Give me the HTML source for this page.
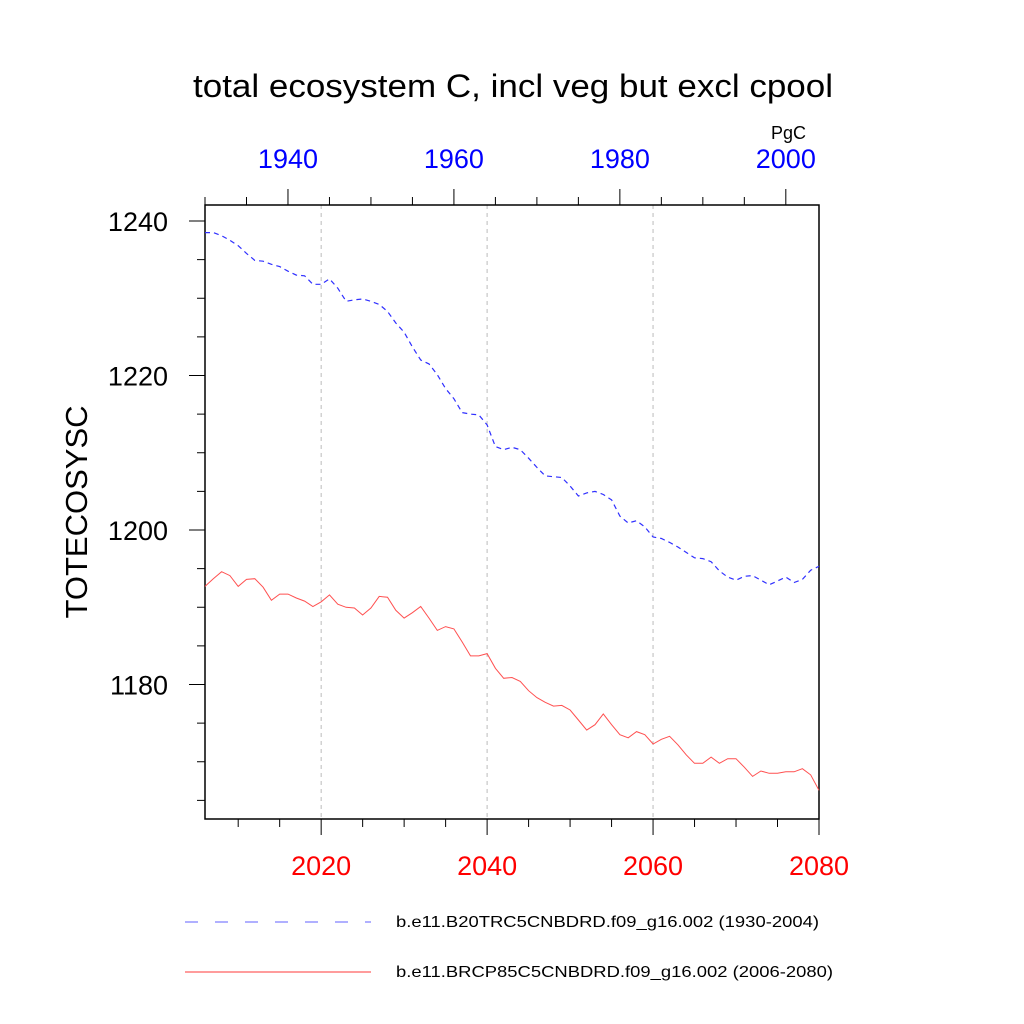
<!DOCTYPE html>
<html><head><meta charset="utf-8"><style>
html,body{margin:0;padding:0;background:#fff;}
svg{display:block;font-family:"Liberation Sans",Arial,sans-serif;}
</style></head><body>
<svg id="chart" width="1024" height="1024" viewBox="0 0 1024 1024" xmlns="http://www.w3.org/2000/svg">
<text x="193" y="97" font-size="32" textLength="640" lengthAdjust="spacingAndGlyphs">total ecosystem C, incl veg but excl cpool</text>
<text x="806" y="139" font-size="18" text-anchor="end">PgC</text>
<text x="0" y="0" font-size="31" text-anchor="middle" transform="translate(87,512) rotate(-90)">TOTECOSYSC</text>
<g id="grid"></g>
<g id="axes"></g>
<g id="series"></g>
<g id="legend">
<line x1="185" y1="922" x2="371" y2="922" stroke="#8080ff" stroke-width="1.2" stroke-dasharray="13,17"/>
<text x="396" y="927" font-size="16" textLength="423" lengthAdjust="spacingAndGlyphs">b.e11.B20TRC5CNBDRD.f09_g16.002 (1930-2004)</text>
<line x1="185" y1="972" x2="371" y2="972" stroke="#ff6060" stroke-width="1.2"/>
<text x="396" y="977" font-size="16" textLength="437" lengthAdjust="spacingAndGlyphs">b.e11.BRCP85C5CNBDRD.f09_g16.002 (2006-2080)</text>
</g>
</svg>
<script>
const rcpStartYear = 2006;
const histStartYear = 1930;
const rcpValues = [1192.7,1193.7,1194.6,1194.1,1192.7,1193.6,1193.7,1192.6,1190.9,1191.7,1191.7,1191.2,1190.8,1190.1,1190.7,1191.6,1190.4,1190.0,1189.9,1189.0,1189.9,1191.4,1191.3,1189.6,1188.6,1189.3,1190.1,1188.6,1187.0,1187.5,1187.2,1185.5,1183.7,1183.7,1184.0,1182.1,1180.8,1180.9,1180.4,1179.2,1178.3,1177.7,1177.2,1177.3,1176.7,1175.4,1174.1,1174.8,1176.2,1174.8,1173.5,1173.1,1173.9,1173.5,1172.3,1172.9,1173.3,1172.2,1170.9,1169.8,1169.8,1170.6,1169.8,1170.4,1170.4,1169.3,1168.1,1168.8,1168.5,1168.5,1168.7,1168.7,1169.1,1168.3,1166.3];
const histValues = [1238.5,1238.5,1238.1,1237.5,1236.8,1235.8,1234.9,1234.8,1234.4,1234.1,1233.5,1233.0,1232.9,1231.8,1231.8,1232.5,1231.3,1229.6,1229.8,1229.9,1229.6,1229.2,1228.3,1226.8,1225.6,1223.7,1222.0,1221.5,1220.1,1218.3,1217.0,1215.2,1215.0,1214.9,1213.6,1210.8,1210.4,1210.7,1210.4,1209.3,1208.1,1207.0,1206.9,1206.8,1205.7,1204.4,1204.8,1205.0,1204.6,1203.9,1201.8,1200.9,1201.2,1200.4,1199.1,1198.9,1198.4,1197.8,1197.1,1196.4,1196.3,1195.9,1194.7,1193.9,1193.5,1194.0,1194.1,1193.5,1192.9,1193.4,1193.9,1193.2,1193.6,1194.8,1195.3];
const bottomTicks = [2020,2040,2060,2080];
const topTicks = [1940,1960,1980,2000];
const yTicks = [1180,1200,1220,1240];

const NS = "http://www.w3.org/2000/svg";
const L=205,R=819,T=205,B=819;
const xB = y => L + (y-2006)/(2080-2006)*(R-L);
const xT = y => L + (y-1930)/(2004-1930)*(R-L);
const yS = v => 221 + (1240-v)*7.725;
function mk(tag, attrs, parent){const e=document.createElementNS(NS,tag);for(const k in attrs)e.setAttribute(k,attrs[k]);parent.appendChild(e);return e;}
const grid=document.getElementById('grid'), axes=document.getElementById('axes'), series=document.getElementById('series');

[2020,2040,2060].forEach(yr=>{
  const g=mk('line',{x1:xB(yr),x2:xB(yr),y1:T,y2:B,stroke:'#bbb','stroke-width':1,'stroke-dasharray':'4,4'},grid);
  
  
});
const frame=mk('rect',{x:L,y:T,width:R-L,height:B-T,fill:'none',stroke:'#000','stroke-width':1.5},axes);



for(let yr=2010;yr<=2080;yr+=5){
  const maj=bottomTicks.includes(yr);
  const t=mk('line',{x1:xB(yr),x2:xB(yr),y1:B,y2:B+(maj?16:8),stroke:'#000','stroke-width':1},axes);
  
  
}
bottomTicks.forEach(yr=>{
  const t=mk('text',{x:xB(yr),y:875,'font-size':27,fill:'#ff0000','text-anchor':'middle'},axes);t.textContent=yr;
  
  
});
for(let yr=1930;yr<=2004;yr+=5){
  const maj=topTicks.includes(yr);
  const t=mk('line',{x1:xT(yr),x2:xT(yr),y1:T,y2:T-(maj?16:8),stroke:'#000','stroke-width':1},axes);
  
  
}
topTicks.forEach(yr=>{
  const t=mk('text',{x:xT(yr),y:168,'font-size':27,fill:'#0000ff','text-anchor':'middle'},axes);t.textContent=yr;
  
  
});
for(let v=1165;v<=1240;v+=5){
  const maj=yTicks.includes(v);
  const t=mk('line',{x1:L,x2:L-(maj?16:8),y1:yS(v),y2:yS(v),stroke:'#000','stroke-width':1},axes);
  
  
}
yTicks.forEach(v=>{
  const t=mk('text',{x:168,y:yS(v)+10,'font-size':27,'text-anchor':'end'},axes);t.textContent=v;
  
  
});

const hp=histValues.map((v,i)=>xT(histStartYear+i).toFixed(1)+','+yS(v).toFixed(1)).join(' ');
const h=mk('polyline',{points:hp,fill:'none',stroke:'#3030ff','stroke-width':1.2,'stroke-dasharray':'5,4'},series);


const rp=rcpValues.map((v,i)=>xB(rcpStartYear+i).toFixed(1)+','+yS(v).toFixed(1)).join(' ');
const r=mk('polyline',{points:rp,fill:'none',stroke:'#ff5050','stroke-width':1},series);


</script>
</body></html>
